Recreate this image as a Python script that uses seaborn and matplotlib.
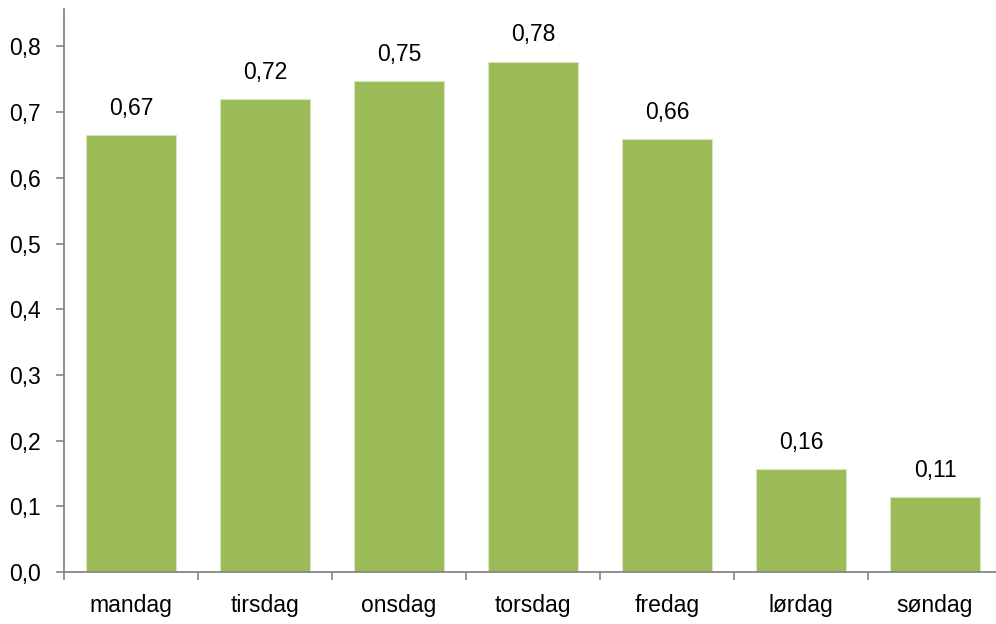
import matplotlib
matplotlib.use("Agg")
import matplotlib.pyplot as plt
import seaborn as sns
import pandas as pd
import numpy as np
from matplotlib.ticker import FixedLocator, FuncFormatter

days = ["mandag", "tirsdag", "onsdag", "torsdag", "fredag", "lørdag", "søndag"]
values = [0.665, 0.72, 0.747, 0.777, 0.659, 0.157, 0.114]
labels = ["0,67", "0,72", "0,75", "0,78", "0,66", "0,16", "0,11"]
yticks = [0.0, 0.1, 0.2, 0.3, 0.4, 0.5, 0.6, 0.7, 0.8]

sns.set_theme(style="white")
plt.rcParams["font.family"] = ["Liberation Sans", "DejaVu Sans"]

df = pd.DataFrame({"day": days, "value": values})

fig = plt.figure(figsize=(9.96, 6.24), dpi=100)
ax = fig.add_axes([64/996, 52/624, (1002-64)/996, (572-9)/624])

sns.barplot(data=df, x="day", y="value", color="#9BBB59", saturation=1,
            width=0.665, edgecolor="#D7E4BD", linewidth=0.8, ax=ax)

ax.set_ylim(0, 0.857)
ax.set_xlim(-0.5, len(days) - 0.5)
ax.set_yticks(yticks)
ax.yaxis.set_major_formatter(FuncFormatter(lambda v, p: f"{v:.1f}".replace(".", ",")))
ax.set_xlabel("")
ax.set_ylabel("")

for i, (v, lab) in enumerate(zip(values, labels)):
    ax.annotate(lab, (i, v), xytext=(0, 11), textcoords="offset points",
                ha="center", va="bottom", fontsize=16.5, color="#000000")

ax.xaxis.set_minor_locator(FixedLocator(np.arange(-0.5, len(days), 1.0)))
ax.tick_params(axis="x", which="major", length=0, pad=16, labelsize=16.5, colors="#000000")
ax.tick_params(axis="x", which="minor", length=6, width=1.2, color="#868686", direction="out", bottom=True)
ax.tick_params(axis="y", which="major", length=6, width=1.2, color="#868686", direction="out", left=True,
               labelsize=16.5, labelcolor="#000000", pad=11)

for s in ["top", "right"]:
    ax.spines[s].set_visible(False)
for s in ["left", "bottom"]:
    ax.spines[s].set_color("#868686")
    ax.spines[s].set_linewidth(1.3)

fig.savefig("out.png", dpi=100)
